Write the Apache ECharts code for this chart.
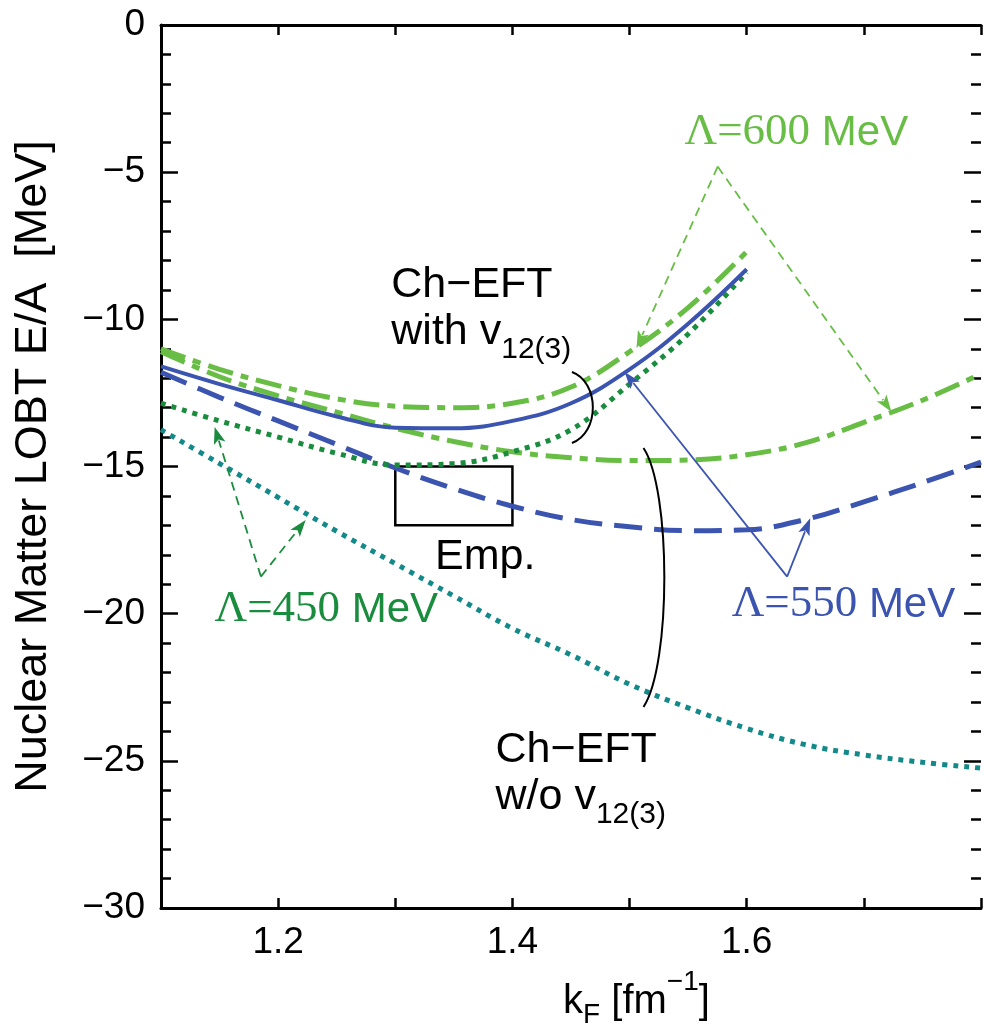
<!DOCTYPE html>
<html><head><meta charset="utf-8">
<script src="https://cdn.jsdelivr.net/npm/echarts@6/dist/echarts.min.js"></script>
<style>html,body{margin:0;padding:0;background:#fff;overflow:hidden}#c{width:984px;height:1027px;overflow:hidden}</style>
</head><body><div id="c"></div>
<script>
// ---- data ----
const kWith = [1.10,1.15,1.20,1.25,1.30,1.35,1.40,1.45,1.50,1.55,1.60];
const kWo   = [1.10,1.15,1.20,1.25,1.30,1.35,1.40,1.45,1.50,1.55,1.60,1.65,1.70,1.75,1.80];
const e600With = [-11.0,-11.7,-12.25,-12.7,-12.95,-13.0,-12.85,-12.3,-11.1,-9.6,-7.7];
const e550With = [-11.6,-12.2,-12.75,-13.3,-13.68,-13.7,-13.45,-12.85,-11.7,-10.15,-8.3];
const e450With = [-12.85,-13.45,-14.0,-14.55,-14.95,-14.9,-14.5,-13.75,-12.2,-10.5,-8.4];
const e600Wo = [-11.1,-11.95,-12.6,-13.15,-13.7,-14.15,-14.5,-14.7,-14.8,-14.78,-14.6,-14.2,-13.5,-12.75,-11.85];
const e550Wo = [-11.8,-12.65,-13.45,-14.25,-15.05,-15.75,-16.35,-16.8,-17.05,-17.18,-17.15,-16.8,-16.2,-15.55,-14.85];
const e450Wo = [-13.75,-14.9,-16.05,-17.2,-18.3,-19.4,-20.5,-21.4,-22.4,-23.2,-23.9,-24.45,-24.8,-25.05,-25.25];
const empK = [1.30, 1.40];
const empE = [-15, -17];
const xTickLabels = ['1.2','1.4','1.6'];
const yTickLabels = ['0','−5','−10','−15','−20','−25','−30'];

// ---- styles ----
const C600 = '#68bd45', C550 = '#3b54b0', C450 = '#1a8c3e', CTEAL = '#14898a';
const SANS = 'Liberation Sans', SERIF = 'Liberation Serif';
const pair = (ks, es) => ks.map((k, i) => [k, es[i]]);

const chart = echarts.init(document.getElementById('c'), null, {renderer: 'canvas'});
const axisLine = {show: true, onZero: false, lineStyle: {color: '#000', width: 3}};
const option = {
  animation: false,
  backgroundColor: '#fff',
  grid: {left: 161, top: 25, width: 826, bottom: 119},
  xAxis: [{
    type: 'value', min: 1.1, max: 1.8, interval: 0.1, position: 'bottom',
    axisLine, splitLine: {show: false},
    axisTick: {show: true, inside: true, length: 10, lineStyle: {color: '#000', width: 2.5}},
    axisLabel: {
      margin: 16, color: '#000', fontFamily: SANS, fontSize: 37,
      formatter: v => { const s = v.toFixed(1); return xTickLabels.includes(s) ? s : ''; }
    }
  }, {
    type: 'value', min: 1.1, max: 1.8, interval: 0.1, position: 'top',
    axisLine, splitLine: {show: false}, axisLabel: {show: false},
    axisTick: {show: true, inside: true, length: 10, lineStyle: {color: '#000', width: 2.5}}
  }],
  yAxis: [{
    type: 'value', min: -30, max: 0, interval: 5, position: 'left',
    axisLine, splitLine: {show: false},
    axisTick: {show: true, inside: true, length: 17, lineStyle: {color: '#000', width: 2.5}},
    minorTick: {show: true, splitNumber: 5, length: 10, lineStyle: {color: '#000', width: 2.5}},
    axisLabel: {
      margin: 16, color: '#000', fontFamily: SANS, fontSize: 37,
      formatter: v => yTickLabels[Math.round(-v / 5)]
    },
    name: 'Nuclear Matter LOBT E/A  [MeV]', nameLocation: 'middle', nameGap: 105, nameRotate: 90,
    nameTextStyle: {fontFamily: SANS, fontSize: 45, color: '#000'}
  }, {
    type: 'value', min: -30, max: 0, interval: 5, position: 'right',
    axisLine: {show: false}, splitLine: {show: false}, axisLabel: {show: false},
    axisTick: {show: true, inside: true, length: 17, lineStyle: {color: '#000', width: 2.5}},
    minorTick: {show: true, splitNumber: 5, length: 10, lineStyle: {color: '#000', width: 2.5}}
  }],
  series: [
    {name: '600 w/o', type: 'line', data: pair(kWo, e600Wo), smooth: 0.4, symbol: 'none',
     lineStyle: {color: C600, width: 5, type: [26, 8, 8, 8], cap: 'butt'}},
    {name: '550 w/o', type: 'line', data: pair(kWo, e550Wo), smooth: 0.4, symbol: 'none',
     lineStyle: {color: C550, width: 5, type: [28, 12], cap: 'butt'}},
    {name: '450 w/o', type: 'line', data: pair(kWo, e450Wo), smooth: 0.4, symbol: 'none',
     lineStyle: {color: CTEAL, width: 5, type: [5, 6], cap: 'butt'}},
    {name: '600 with', type: 'line', data: pair(kWith, e600With), smooth: 0.4, symbol: 'none',
     lineStyle: {color: C600, width: 5, type: [26, 8, 8, 8], cap: 'butt'}},
    {name: '450 with', type: 'line', data: pair(kWith, e450With), smooth: 0.4, symbol: 'none',
     lineStyle: {color: C450, width: 5, type: [5, 6], cap: 'butt'}},
    {name: '550 with', type: 'line', data: pair(kWith, e550With), smooth: 0.4, symbol: 'none',
     lineStyle: {color: C550, width: 4}},
    {name: 'Emp.', type: 'line', data: [], symbol: 'none',
     markArea: {silent: true, itemStyle: {color: 'rgba(0,0,0,0)', borderColor: '#000', borderWidth: 2.5},
       label: {show: false},
       data: [[{coord: [empK[0], empE[0]]}, {coord: [empK[1], empE[1]]}]]}}
  ]
};
chart.setOption(option);

// ---- annotations positioned in data coordinates ----
const P = (k, e) => chart.convertToPixel({gridIndex: 0}, [k, e]);
const mctx = document.createElement('canvas').getContext('2d');
const tw = (s, font) => { mctx.font = font; return mctx.measureText(s).width; };
const g = [];
// pieces: [text, fontSize, baselineShift(px, + = down), family]; anchored at left x, main baseline y
function runText(x, baseline, pieces, color) {
  let cx = x;
  pieces.forEach(([s, fs, dy, fam]) => {
    const font = fs + 'px "' + (fam || SANS) + '"';
    g.push({type: 'text', x: cx, y: baseline + (dy || 0) - 0.35 * fs, z: 50,
      style: {text: s, font: font, fill: color, align: 'left', verticalAlign: 'middle'}});
    cx += tw(s, font);
  });
  return cx - x;
}
function runTextAt(k, e, pieces, color, center) {
  const p = P(k, e);
  let x = p[0];
  if (center) {
    const w = pieces.reduce((a, [s, fs, dy, fam]) => a + tw(s, fs + 'px "' + (fam || SANS) + '"'), 0);
    x -= w / 2;
  }
  runText(x, p[1], pieces, color);
}
function arrow(a, b, color, dash) {
  const p0 = P(a[0], a[1]), p1 = P(b[0], b[1]);
  const dx = p1[0] - p0[0], dy = p1[1] - p0[1], L = Math.hypot(dx, dy);
  const ux = dx / L, uy = dy / L, hl = 17, hw = 6;
  const bx = p1[0] - ux * hl, by = p1[1] - uy * hl;
  g.push({type: 'line', z: 40, shape: {x1: p0[0], y1: p0[1], x2: bx + ux * 3, y2: by + uy * 3},
    style: {stroke: color, lineWidth: 1.8, lineDash: dash ? [9, 6] : null}});
  g.push({type: 'polygon', z: 41, shape: {points: [[p1[0], p1[1]],
    [bx - uy * hw, by + ux * hw], [bx + ux * 4, by + uy * 4], [bx + uy * hw, by - ux * hw]]},
    style: {fill: color}});
}
function bracket(pts) {
  const q = pts.map(t => P(t[0], t[1]));
  g.push({type: 'bezierCurve', z: 40, shape: {x1: q[0][0], y1: q[0][1], cpx1: q[1][0], cpy1: q[1][1],
    cpx2: q[2][0], cpy2: q[2][1], x2: q[3][0], y2: q[3][1]},
    style: {stroke: '#000', lineWidth: 2, fill: null}});
}
const lam = num => [['Λ=' + num, 45, 0, SERIF], [' MeV', 42, 0, SANS]];

// Λ labels (anchor = centre, baseline)
runTextAt(1.6424, -4.18, lam('600'), C600, true);
arrow([1.5752, -4.81], [1.5059, -10.97], C600, true);
arrow([1.5752, -4.81], [1.7235, -13.14], C600, true);

runTextAt(1.6826, -20.22, lam('550'), C550, true);
arrow([1.6345, -18.74], [1.4958, -11.79], C550, false);
arrow([1.6345, -18.74], [1.6542, -16.76], C550, false);

runTextAt(1.2411, -20.39, lam('450'), C450, true);
arrow([1.1853, -18.74], [1.1458, -13.66], C450, true);
arrow([1.1853, -18.74], [1.2235, -16.82], C450, true);

// black labels (anchor = left, baseline)
runTextAt(1.2966, -9.34, [['Ch−EFT', 43]], '#000');
runTextAt(1.2966, -10.94, [['with v', 43], ['12(3)', 30, 13]], '#000');
runTextAt(1.3856, -25.14, [['Ch−EFT', 43]], '#000');
runTextAt(1.3856, -26.74, [['w/o v', 43], ['12(3)', 30, 13]], '#000');
runTextAt(1.3339, -18.58, [['Emp.', 43]], '#000');
// x-axis title
runTextAt(1.5059, -33.66, [['k', 40], ['F', 28, 9], [' [fm', 40], ['−1', 28, -24], [']', 40]], '#000', true);

bracket([[1.4508, -11.79], [1.4746, -12.13], [1.4746, -13.86], [1.4508, -14.20]]);
bracket([[1.5119, -14.37], [1.5356, -15.80], [1.5356, -21.74], [1.5119, -23.17]]);

chart.setOption({graphic: g});
</script></body></html>
